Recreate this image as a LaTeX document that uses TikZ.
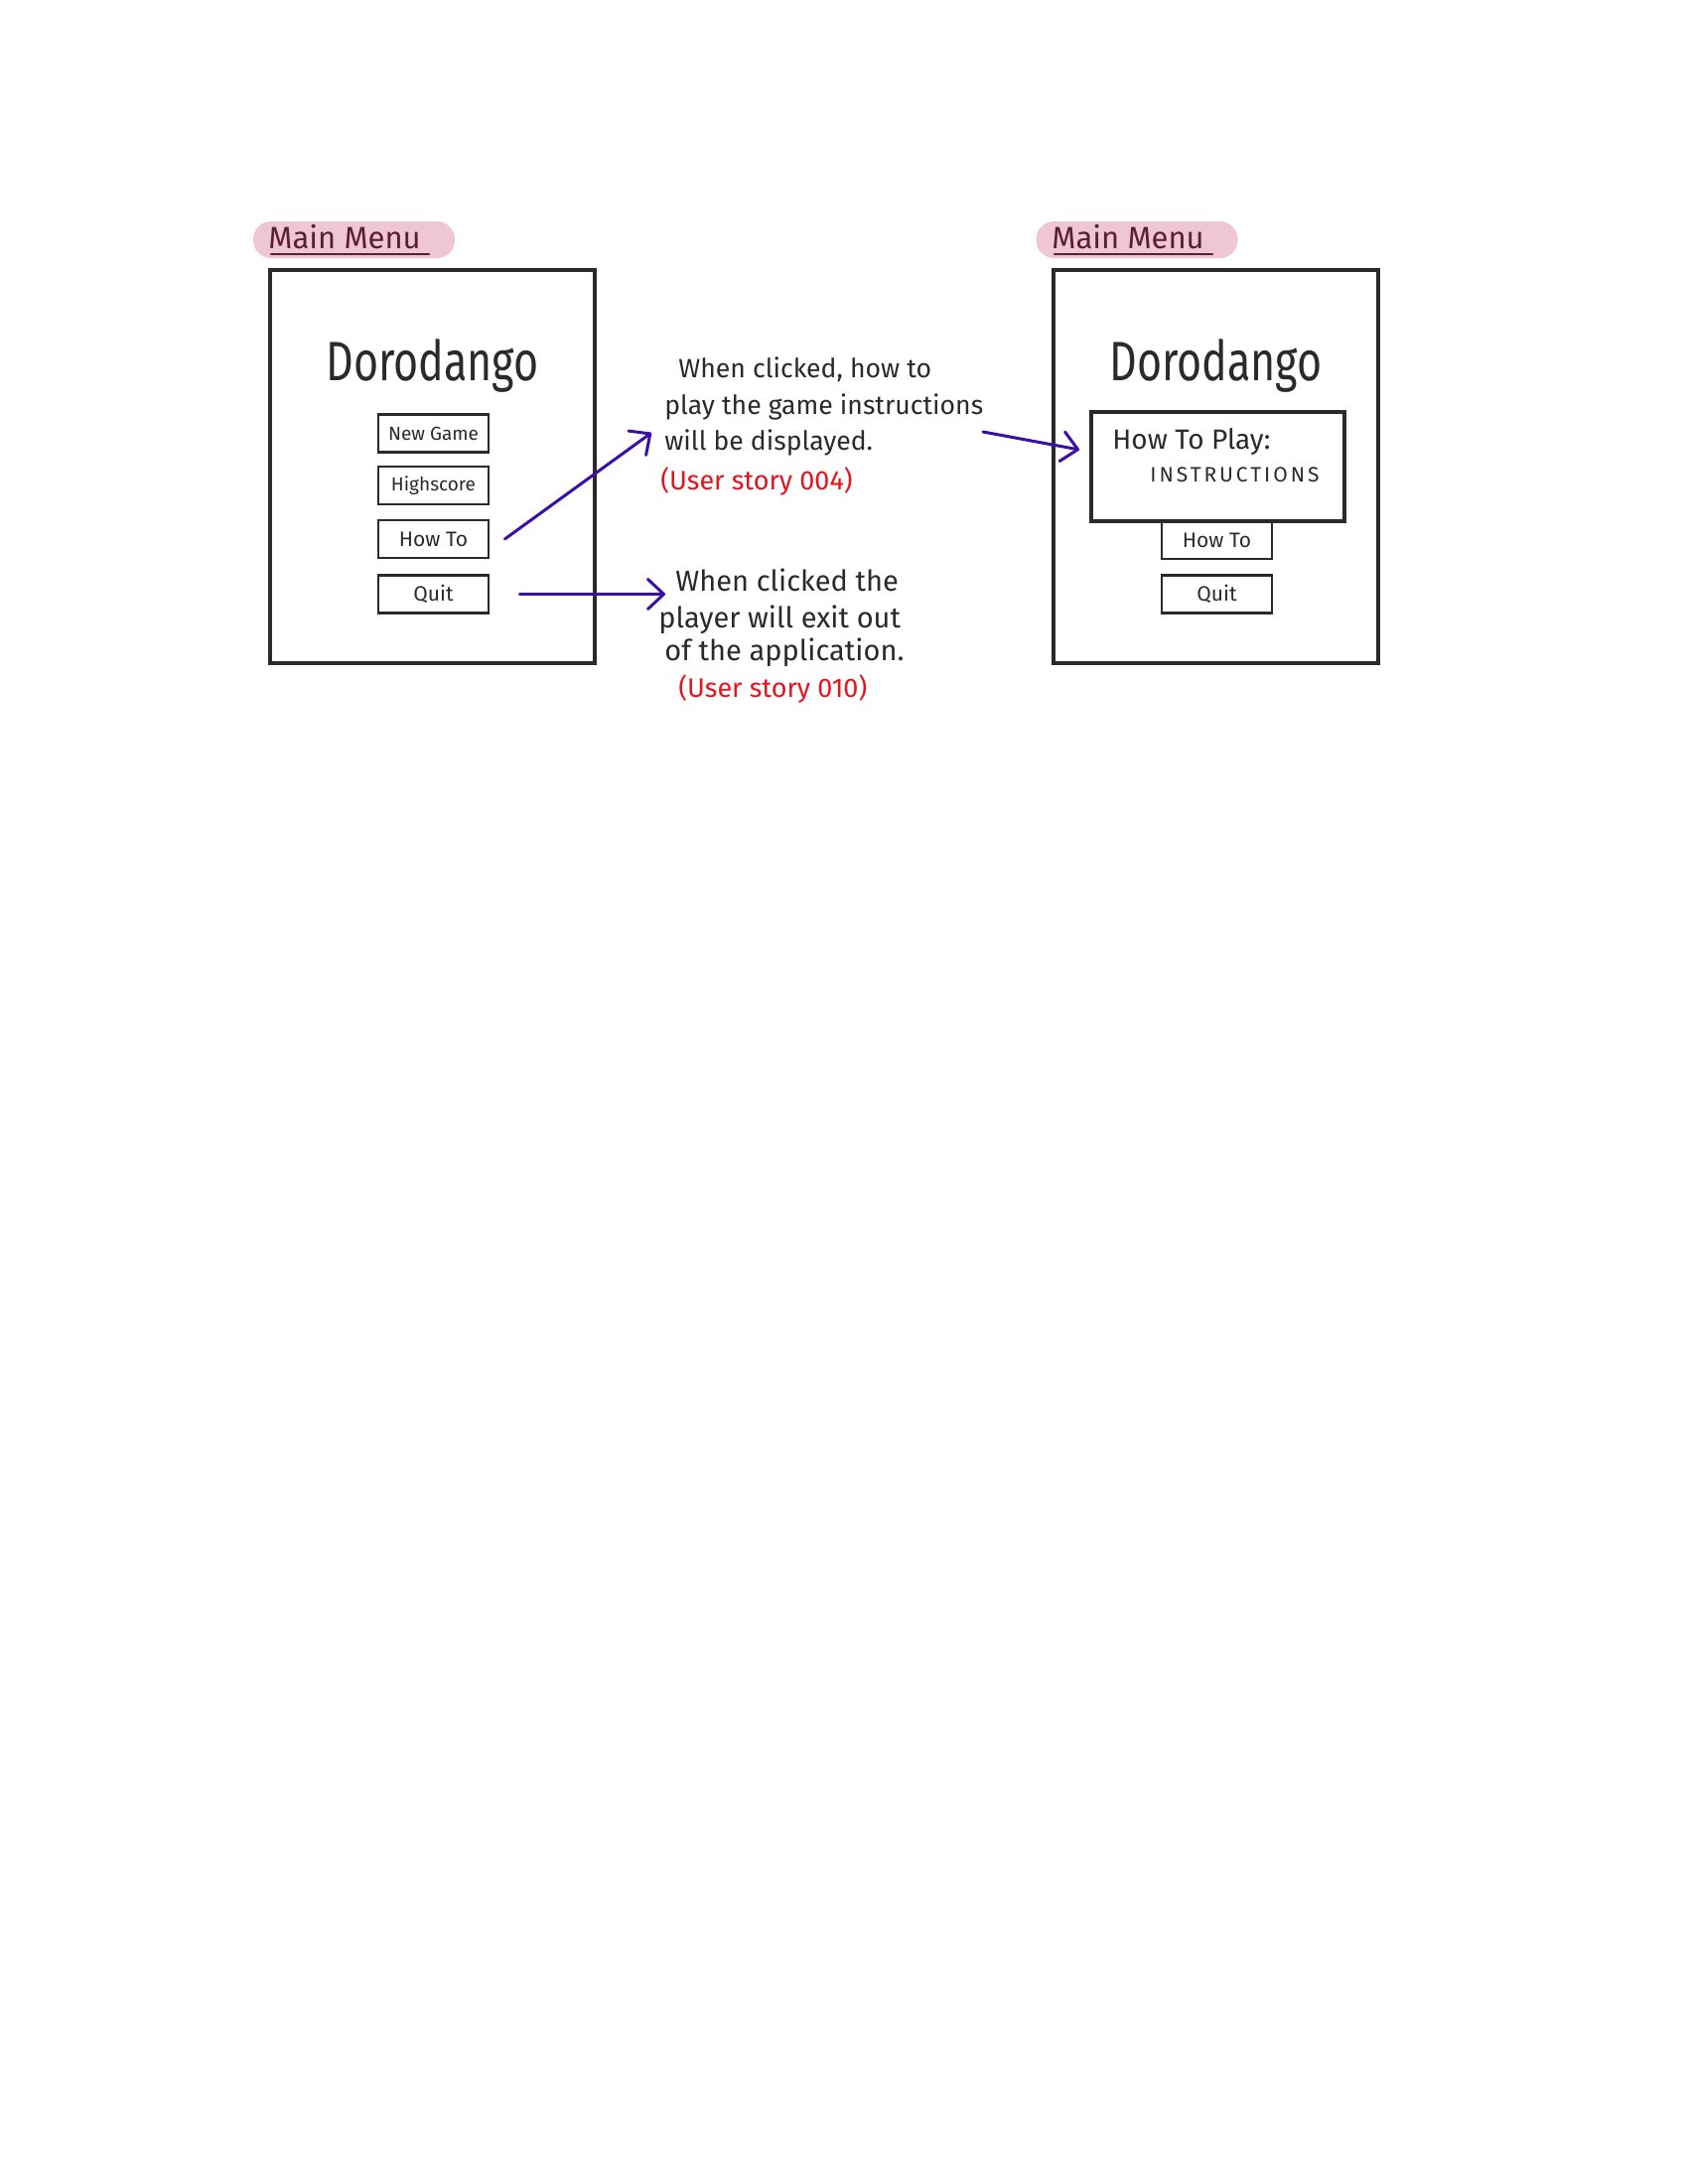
\documentclass[tikz,border=0pt]{standalone}
\usepackage{fontspec}
\setmainfont{Fira Sans}
\usetikzlibrary{arrows.meta}
\definecolor{ink}{HTML}{2A2A2A}
\definecolor{pillc}{HTML}{EFC7D4}
\definecolor{maroon}{HTML}{5A1E36}
\definecolor{arrowc}{HTML}{3B0FA6}
\definecolor{storyred}{HTML}{E8121C}
\begin{document}
\begin{tikzpicture}[x=0.5pt,y=-0.5pt,
  frame/.style={draw=ink,line width=1.75pt,minimum width=163.5pt,minimum height=198pt,inner sep=0pt},
  button/.style={draw=ink,line width=1.4pt,minimum width=55.5pt,minimum height=19pt,inner sep=0pt,text=ink,font=\fontsize{9.5}{11}\selectfont},
  bigbutton/.style={button,font=\fontsize{10.5}{13}\selectfont},
  pillbox/.style={fill=pillc,rounded corners=9pt,minimum width=101.5pt,minimum height=18.5pt,inner sep=0pt},
  mmtext/.style={anchor=base west,inner sep=0pt,text=maroon,font=\fontsize{15.5}{18}\selectfont},
  ul/.style={draw=maroon,line width=1.2pt,line cap=round},
  title/.style={anchor=base,inner sep=0pt,text=ink,font=\fontsize{21.5}{26}\selectfont\addfontfeatures{Weight=Light}},
  note/.style={anchor=base west,inner sep=0pt,text=ink,font=\fontsize{13.3}{15}\selectfont},
  notebig/.style={note,font=\fontsize{14.5}{16}\selectfont},
  story/.style={note,text=storyred,font=\fontsize{13.5}{15}\selectfont},
  instrbox/.style={draw=ink,line width=1.6pt,minimum width=127.5pt,minimum height=55pt,inner sep=0pt},
  arr/.style={draw=arrowc,line width=1.5pt,line cap=round,-{Straight Barb[length=8pt,width=15pt,line width=1.5pt,round]}},
]
\useasboundingbox[fill=white] (0,0) rectangle (1700,2200);

% ---------- left screen ----------
\node[pillbox] (pill1) at (356.5,241.5) {};
\node[mmtext] (mm1) at (270,250) {Main Menu};
\draw[ul] ([xshift=1.5pt,yshift=-3pt]mm1.base west) -- ([xshift=4pt,yshift=-3pt]mm1.base east);
\node[frame] (scr1) at (435.5,470) {};
\node[title] (ttl1) at (435.5,383) {\scalebox{1}[1.3]{Dorodango}};
\node[button] (ng1) at (436.5,436.5) {New Game};
\node[button] (hs1) at (436.5,489) {Highscore};
\node[bigbutton] (ht1) at (436.5,543) {How To};
\node[bigbutton] (qt1) at (436.5,598.5) {Quit};

% ---------- notes ----------
\node[note] (t1a) at (683,380) {When clicked, how to};
\node[note] (t1b) at (669,417) {play the game instructions};
\node[note] (t1c) at (669,453) {will be displayed.};
\node[story] (t1d) at (665,493) {(User story 004)};

\node[notebig] (t2a) at (680,595) {When clicked the};
\node[notebig] (t2b) at (663,632) {player will exit out};
\node[notebig] (t2c) at (669,665) {of the application.};
\node[story] (t2d) at (683,702) {(User story 010)};

% ---------- right screen ----------
\node[pillbox] (pill2) at (1145,241.5) {};
\node[mmtext] (mm2) at (1059,250) {Main Menu};
\draw[ul] ([xshift=1.5pt,yshift=-3pt]mm2.base west) -- ([xshift=4pt,yshift=-3pt]mm2.base east);
\node[frame] (scr2) at (1224.5,470) {};
\node[title] (ttl2) at (1224.5,383) {\scalebox{1}[1.3]{Dorodango}};
\node[instrbox] (ins) at (1226.5,470) {};
\node[note,font=\fontsize{14}{16}\selectfont] (htp) at (1120,452) {How To Play:};
\node[note,font=\fontsize{10.5}{12}\selectfont\addfontfeatures{LetterSpace=14}] (instr) at (1158,485) {INSTRUCTIONS};
\node[bigbutton] (ht2) at (1225.5,544) {How To};
\node[bigbutton] (qt2) at (1225.5,598.5) {Quit};

% ---------- connectors ----------
\coordinate (a1e) at (656,436);
\coordinate (a2e) at (670,598.5);
\coordinate (a3s) at (990,435);
\coordinate (a3e) at (1087,453);
\draw[arr] ([xshift=7.5pt]ht1.east) -- (a1e);
\draw[arr] ([xshift=15pt]qt1.east) -- (a2e);
\draw[arr] (a3s) -- (a3e);
\end{tikzpicture}
\end{document}
